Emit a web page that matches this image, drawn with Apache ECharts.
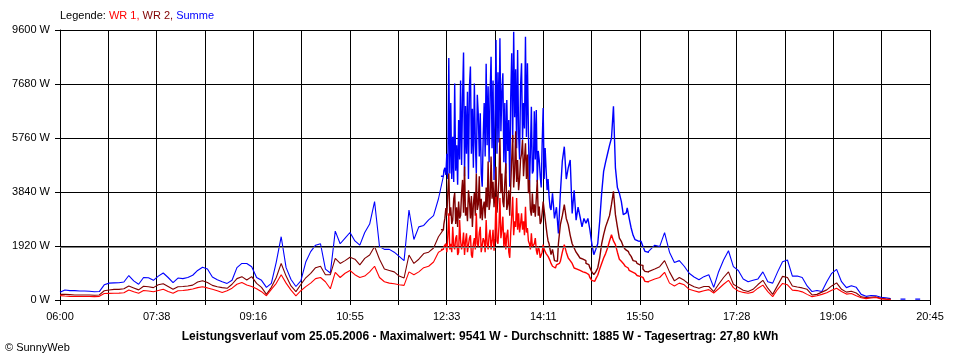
<!DOCTYPE html>
<html><head><meta charset="utf-8">
<script src="https://cdn.jsdelivr.net/npm/echarts@6/dist/echarts.min.js"></script>
<style>html,body{margin:0;padding:0;background:#fff}#c{width:960px;height:360px}</style>
</head><body><div id="c"></div>
<script>
// sample times in minutes after 06:00: [start, end, step]
const timeSegments = [[0, 385, 5], [390, 500, 1], [502, 598, 2], [600, 885, 5]];
const noisyRange = [390, 598];
const dayStartMinutes = 360;
const xMaxMinutes = 885;
const yMax = 9600;
const yStep = 1920;
const average = 1885;

const summe = [
  // 06:00 - 12:25 (5 min)
  274,356,332,332,320,320,310,296,300,540,
  600,610,616,640,870,680,560,800,790,700,
  850,960,800,616,780,760,800,880,1050,1162,
  1100,820,720,650,590,700,1150,1300,1300,1185,
  800,700,450,590,1350,2250,1150,730,480,680,
  1350,1720,1950,2000,1100,960,2450,2000,2200,2400,
  2100,1950,2400,2700,3500,1900,1800,1800,1700,1550,
  1400,3200,2150,2600,2650,2850,3000,3600,
  // 12:30 - 14:20 (1 min)
  4400,4600,4700,4450,5200,4300,8600,4500,7000,4300,
  5800,4200,7700,4600,5500,4100,6400,5000,7800,4800,
  7200,8800,4400,6900,5200,7400,4300,7600,8300,5200,
  6800,4700,7700,5600,4500,7300,6600,5100,6637,4500,
  4030,5800,7000,5100,8400,5500,7600,4900,7300,8652,
  5400,7800,4267,6200,9244,5200,8100,5600,9304,6000,
  7400,8059,4900,7000,4500,7111,5300,6400,4030,7200,
  8770,5600,9541,6500,8200,5400,8889,5900,5000,7600,
  8415,5700,7000,6100,9363,5800,8415,6000,4000,5200,
  6874,4500,4600,6708,5000,6756,4200,5300,4978,4400,
  4000,5600,6827,4300,5400,4622,3900,4300,3674,3300,
  3200,
  // 14:22 - 15:58 (2 min)
  3790,2900,3300,2370,
  3800,4950,5450,4300,4700,4980,3080,3900,2840,3300,
  2960,2600,2900,2730,2900,2500,2000,1612,1800,2000,
  2800,3800,4575,4900,5200,5500,5760,6886,4700,4000,
  3800,3508,3034,3100,3271,2900,2560,2300,2145,2100,
  2090,2086,1900,1730,1700,
  // 16:00 - 20:45 (5 min)
  1700,1950,1900,2394,1700,1330,1400,1200,950,820,
  720,830,900,450,1007,1422,1750,1185,1050,750,
  650,700,750,1000,650,600,1000,1363,1422,850,
  850,800,500,300,340,300,650,948,1090,650,
  440,510,450,200,130,160,150,100,80,50,
  null,30,30,null,30,30,null,null
];
const wr2 = [
  200,200,190,180,180,178,178,170,180,330,
  356,379,379,400,498,430,360,490,470,440,
  540,580,480,379,470,480,500,530,640,687,
  620,520,470,440,415,560,760,830,711,830,
  593,450,200,450,800,1300,850,500,300,550,
  790,950,1150,1200,900,900,1480,1300,1400,1520,
  1450,1250,1480,1600,1900,1450,1100,1050,1000,850,
  782,1600,1300,1450,1650,1700,1850,2250,
  2500,2700,2900,3270,3000,3800,4500,3000,3300,2700,
  2840,3600,3800,2700,3300,2600,3500,2900,3000,3800,
  4270,3100,4750,3000,3300,2800,3900,3560,2900,3700,
  2600,3400,3800,3000,4500,3200,3400,4400,2900,3600,
  2840,3300,3500,2900,4000,3300,4920,3200,3500,5100,
  3600,4200,3300,3900,4740,3100,3600,4300,5760,3800,
  4500,3500,3300,4200,4860,3200,3400,3900,3000,4100,
  5000,5870,4000,4600,6000,4200,4980,3900,4300,5000,
  5200,5690,4400,5000,5570,4300,5170,3800,4270,3200,
  3000,3790,3100,3400,2960,3000,4270,3000,3320,2700,
  2800,3100,3500,3508,2900,2600,2320,2100,2000,1800,
  1612,
  1800,1400,1375,2000,
  2680,3000,3390,2900,2680,2300,2000,1850,1700,1600,
  1493,1450,1400,1300,1256,1150,1000,900,1000,1138,
  1500,2000,2323,2600,2797,3000,3400,3864,3034,2600,
  2200,2086,1900,1800,1730,1650,1550,1400,1375,1300,
  1250,1233,1100,1019,1000,
  950,1100,1185,1400,1000,680,800,700,560,474,
  420,480,480,300,560,800,1000,560,450,350,
  300,380,550,700,420,200,520,840,800,500,
  460,430,380,180,200,280,360,500,610,380,
  280,310,250,110,90,100,110,60,40,30,
  null,null,null,null,null,null,null,null
];
const wr1 = [
  154,140,130,125,125,125,125,120,130,230,
  237,240,245,260,356,290,240,340,320,296,
  340,380,300,237,330,340,360,390,440,474,
  430,380,330,270,330,420,560,620,533,480,
  400,296,150,380,593,900,600,350,150,330,
  474,600,760,800,650,400,980,800,950,1050,
  900,800,850,1000,1200,800,650,600,580,545,
  521,1000,900,1000,1150,1200,1350,1700,
  1800,1900,1850,2000,1700,2300,3080,1800,2000,1700,
  2600,1900,1800,2200,2300,1600,1700,2844,2100,1800,
  2000,2400,1600,2100,2370,1700,1700,2200,2300,1600,
  1500,2000,2200,1800,3080,2000,1900,2400,2600,1700,
  1700,2200,2100,1700,2844,2000,1800,2300,2500,1800,
  2100,2500,1750,2200,3674,2100,2000,2600,3627,2200,
  2500,2963,1900,2400,1800,2300,2500,1700,1500,2400,
  3000,3674,2300,2800,2600,3627,2500,3081,2400,2700,
  3081,2500,2800,2300,3319,2400,2560,2100,2000,1800,
  2370,1900,1849,2000,2200,1778,1612,1900,1778,1500,
  1500,1700,1967,1800,1800,1650,1600,1550,1493,1400,
  1300,
  1200,1138,1250,1300,
  1375,1700,1967,1700,1493,1400,1300,1138,1100,1050,
  1019,1000,970,940,900,800,700,663,750,880,
  1100,1300,1493,1650,1849,2100,2323,2100,1967,1700,
  1450,1375,1300,1200,1138,1050,1000,950,900,870,
  840,806,750,663,650,
  650,750,800,984,600,500,600,540,380,330,
  280,330,370,250,400,560,700,440,320,270,
  240,280,420,530,300,120,380,590,540,350,
  335,290,200,119,150,200,261,350,415,300,
  210,230,150,80,50,70,90,40,24,15,
  null,null,null,null,null,null,null,null
];

const times = [];
for (const [a, b, s] of timeSegments) for (let t = a; t <= b; t += s) times.push(t);
const inNoisy = t => t >= noisyRange[0] && t <= noisyRange[1];
const smoothPart = arr => times.map((t, i) => [t * 60, (!inNoisy(t) || t === noisyRange[0] || t === noisyRange[1]) ? arr[i] : null]);
const noisyPart = arr => times.map((t, i) => [t * 60, inNoisy(t) ? arr[i] : null]);

const FONT = '"Liberation Sans", Arial, sans-serif';
const xStep = xMaxMinutes * 60 / 18;
function fmtX(v) {
  const k = Math.round(v / xStep);
  if (k % 2) return '';
  const m = Math.floor(dayStartMinutes + v / 60 + 1e-6);
  const h = Math.floor(m / 60), mm = m % 60;
  return String(h).padStart(2, '0') + ':' + String(mm).padStart(2, '0');
}

const chart = echarts.init(document.getElementById('c'), null, {renderer: 'canvas'});
const lineBase = {type: 'line', showSymbol: false, connectNulls: false, animation: false, silent: true};
function mkSeries(name, arr, color, extra) {
  return [
    Object.assign({}, lineBase, {name: name, data: smoothPart(arr), lineStyle: {color: color, width: 1.1}, itemStyle: {color: color}}),
    Object.assign({}, lineBase, {name: name, data: noisyPart(arr), step: 'middle', lineStyle: {color: color, width: 1.4}, itemStyle: {color: color}}, extra || {})
  ];
}
chart.setOption({
  animation: false,
  backgroundColor: '#ffffff',
  grid: {left: 60, right: 30, top: 30, bottom: 60, containLabel: false},
  xAxis: {
    type: 'value', min: 0, max: xMaxMinutes * 60, interval: xStep,
    axisLine: {show: true, lineStyle: {color: '#000', width: 1}},
    axisTick: {show: true, length: 5, lineStyle: {color: '#000', width: 1}},
    axisLabel: {formatter: fmtX, color: '#000', fontFamily: FONT, fontSize: 11, margin: 11, showMinLabel: true, showMaxLabel: true},
    splitLine: {show: true, lineStyle: {color: '#000', width: 1}}
  },
  yAxis: {
    type: 'value', min: 0, max: yMax, interval: yStep,
    axisLine: {show: true, lineStyle: {color: '#000', width: 1}},
    axisTick: {show: true, length: 5, lineStyle: {color: '#000', width: 1}},
    axisLabel: {formatter: v => String(Math.round(v)) + ' W', color: '#000', fontFamily: FONT, fontSize: 11, margin: 10},
    splitLine: {show: true, lineStyle: {color: '#000', width: 1}}
  },
  series: [].concat(
    mkSeries('Summe', summe, '#0000ff'),
    mkSeries('WR 2', wr2, '#800000'),
    mkSeries('WR 1', wr1, '#ff0000', {
      markLine: {silent: true, symbol: 'none', animation: false, label: {show: false},
        lineStyle: {color: '#808080', type: 'solid', width: 1}, data: [{yAxis: average}]}})
  ),
  graphic: [
    {type: 'text', left: 60, top: 10, style: {
      text: '{k|Legende: }{a|WR 1, }{b|WR 2, }{c|Summe}',
      rich: {
        k: {fill: '#000', font: '11px ' + FONT},
        a: {fill: '#ff0000', font: '11px ' + FONT},
        b: {fill: '#800000', font: '11px ' + FONT},
        c: {fill: '#0000ff', font: '11px ' + FONT}
      }}},
    {type: 'text', x: 480, y: 337, style: {
      text: 'Leistungsverlauf vom 25.05.2006 - Maximalwert: 9541 W - Durchschnitt: 1885 W - Tagesertrag: 27,80 kWh',
      font: 'bold 12px ' + FONT, fill: '#000', align: 'center', verticalAlign: 'middle'}},
    {type: 'text', x: 5, y: 348, style: {
      text: '© SunnyWeb', font: '11px ' + FONT, fill: '#000', align: 'left', verticalAlign: 'middle'}}
  ]
});
</script></body></html>
